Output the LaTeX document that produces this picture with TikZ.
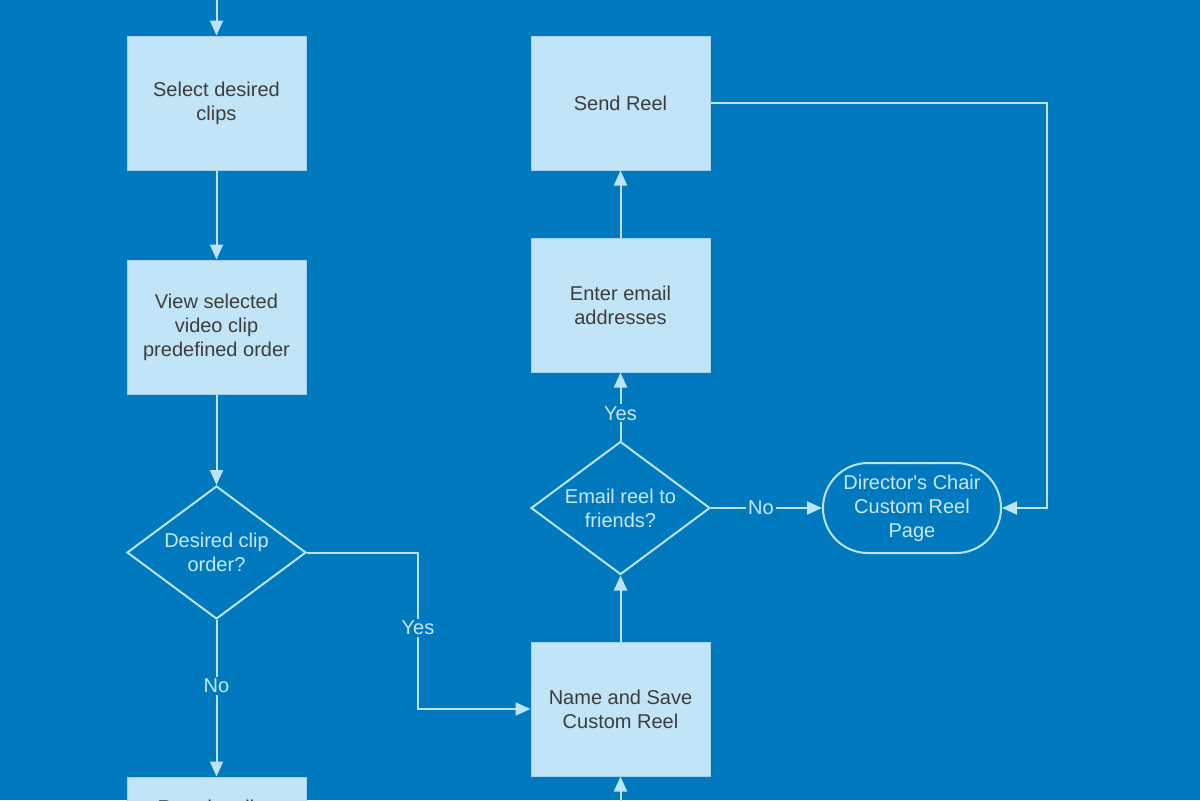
\documentclass[tikz,border=0pt]{standalone}
\usepackage{fontspec}
\setmainfont{Liberation Sans}
\usetikzlibrary{shapes.geometric,arrows.meta}
\definecolor{bg}{RGB}{0,121,190}
\definecolor{boxfill}{RGB}{193,228,247}
\definecolor{boxedge}{RGB}{160,210,240}
\definecolor{ln}{RGB}{189,227,247}
\definecolor{boxtext}{RGB}{61,61,61}
\definecolor{lighttext}{RGB}{200,232,250}
\tikzset{
  procbox/.style={rectangle, draw=boxedge, line width=0.5pt, fill=boxfill, text=boxtext,
    minimum width=89.5pt, minimum height=67pt, align=center, inner sep=2pt,
    font=\fontsize{10pt}{12pt}\selectfont},
  decision/.style={diamond, draw=ln, line width=1pt, text=lighttext,
    minimum width=89.5pt, minimum height=66.5pt, aspect=1.35, align=center, inner sep=0pt,
    font=\fontsize{10pt}{12pt}\selectfont},
  terminal/.style={rectangle, rounded corners=22.5pt, draw=ln, line width=1pt, text=lighttext,
    minimum width=89pt, minimum height=45pt, align=center, inner sep=2pt,
    font=\fontsize{10pt}{12pt}\selectfont},
  conn/.style={draw=ln, line width=1pt, -{Triangle[width=6.5pt,length=7.5pt]}},
  lbl/.style={fill=bg, text=lighttext, inner sep=1pt, font=\fontsize{10pt}{12pt}\selectfont}
}
\begin{document}
\begin{tikzpicture}[x=0.5pt,y=-0.5pt]
\useasboundingbox (0,0) rectangle (1200,800);
\fill[bg] (0,0) rectangle (1200,800);
\clip (0,0) rectangle (1200,800);
% nodes
\coordinate (topin) at (216.5,-5);
\node[procbox] (select) at (216.5,103) {Select desired\\clips};
\node[procbox] (view) at (216.5,327) {View selected\\video clip\\predefined order};
\node[decision] (order) at (216.5,552.5) {Desired clip\\order?};
\node[procbox] (reorder) at (216.5,844) {};
\node[text=boxtext, font=\fontsize{10pt}{12pt}\selectfont] (reordertext) at (216.5,809) {Reorder clips};
\node[procbox] (send) at (620.5,103) {Send Reel};
\node[procbox] (email) at (620.5,305) {Enter email\\addresses};
\node[decision] (friends) at (620.5,508) {Email reel to\\friends?};
\node[procbox] (save) at (620.5,709) {Name and Save\\Custom Reel};
\node[terminal] (chair) at (912,508) {Director\textquotesingle s Chair\\Custom Reel\\Page};
\coordinate (botin) at (620.5,805);
\coordinate (c1) at (418,552.5);
\coordinate (c2) at (418,709);
\coordinate (c3) at (1047,103);
\coordinate (c4) at (1047,508);
% connectors
\draw[conn] (topin) -- (select.north);
\draw[conn] (select) -- (view);
\draw[conn] (view) -- (order.north);
\draw[conn] (order.east) -- (c1) -- node[lbl, pos=0.48] (yes1) {Yes} (c2) -- (save.west);
\draw[conn] (order.south) -- node[lbl, pos=0.42] (no1) {No} (reorder.north);
\draw[conn] (botin) -- (save.south);
\draw[conn] (save.north) -- (friends.south);
\draw[conn] (friends.north) -- node[lbl, pos=0.4] (yes2) {Yes} (email.south);
\draw[conn] (email.north) -- (send.south);
\draw[conn] (send.east |- c3) -- (c3) -- (c4) -- (chair.east);
\draw[conn] (friends.east) -- node[lbl, pos=0.45] (no2) {No} (chair.west);
\end{tikzpicture}
\end{document}
